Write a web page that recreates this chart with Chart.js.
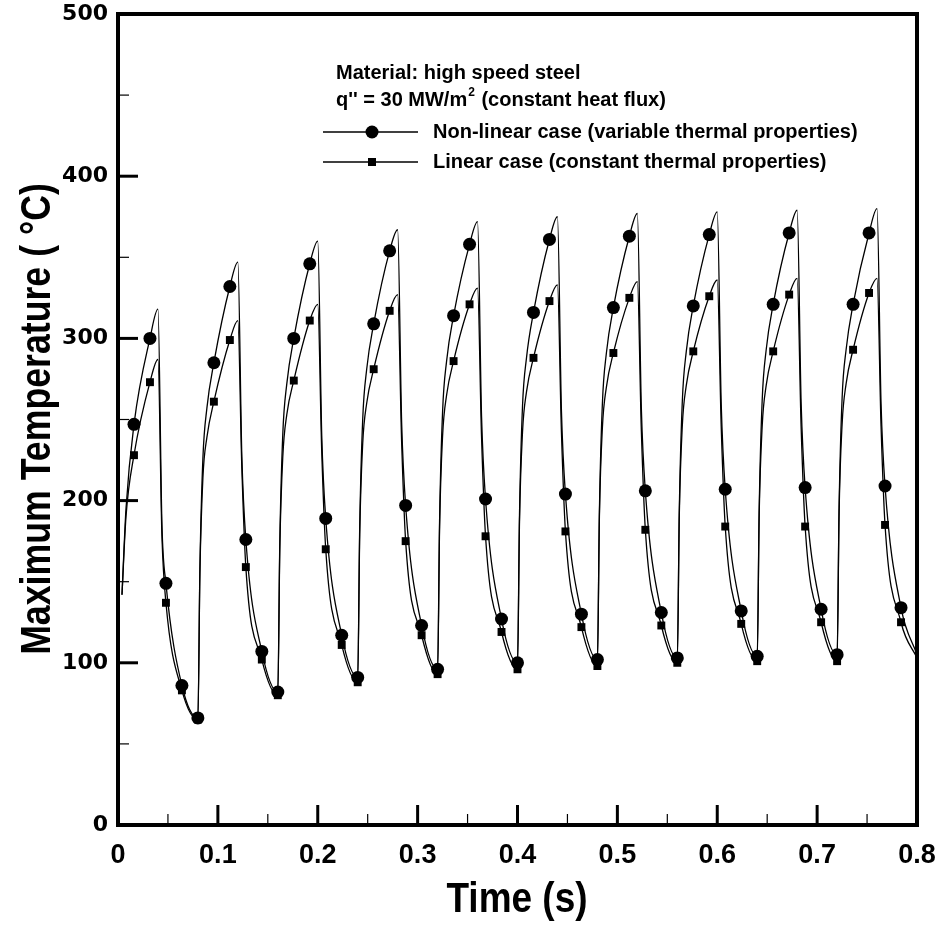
<!DOCTYPE html>
<html lang="en">
<head>
    <meta charset="UTF-8">
    <title>Maximum Temperature vs Time</title>
    <script src="https://cdn.jsdelivr.net/npm/chart.js"></script>
    <style>
        html, body { margin: 0; padding: 0; background: #fff; }
    </style>
</head>
<body>
    <canvas id="tempChart" width="944" height="933"></canvas>

    <script>
        // Time (s) of the read points, one row per heating/cooling cycle
        const time = [
            0.004, 0.008, 0.016, 0.032, 0.040, 0.044, 0.048, 0.064,
            0.080, 0.082, 0.085, 0.089, 0.096, 0.112, 0.120, 0.124, 0.128, 0.144,
            0.160, 0.162, 0.165, 0.169, 0.176, 0.192, 0.200, 0.204, 0.208, 0.224,
            0.240, 0.242, 0.245, 0.249, 0.256, 0.272, 0.280, 0.284, 0.288, 0.304,
            0.320, 0.322, 0.325, 0.329, 0.336, 0.352, 0.360, 0.364, 0.368, 0.384,
            0.400, 0.402, 0.405, 0.409, 0.416, 0.432, 0.440, 0.444, 0.448, 0.464,
            0.480, 0.482, 0.485, 0.489, 0.496, 0.512, 0.520, 0.524, 0.528, 0.544,
            0.560, 0.562, 0.565, 0.569, 0.576, 0.592, 0.600, 0.604, 0.608, 0.624,
            0.640, 0.642, 0.645, 0.649, 0.656, 0.672, 0.680, 0.684, 0.688, 0.704,
            0.720, 0.722, 0.725, 0.729, 0.736, 0.752, 0.760, 0.764, 0.768, 0.784,
            0.800
        ];

        // Non-linear case (variable thermal properties), deg C
        const nonLinearTemp = [
            142, 195, 247, 300, 318, 185, 149, 86,
            66, 158, 226, 257, 285, 332, 347, 227, 176, 107,
            82, 174, 241, 272, 300, 346, 360, 240, 189, 117,
            91, 183, 250, 281, 309, 354, 367, 248, 197, 123,
            96, 188, 255, 286, 314, 358, 372, 252, 201, 127,
            100, 191, 258, 288, 316, 361, 375, 255, 204, 130,
            102, 193, 260, 291, 319, 363, 377, 257, 206, 131,
            103, 194, 261, 292, 320, 364, 378, 259, 207, 132,
            104, 195, 262, 293, 321, 365, 379, 260, 208, 133,
            105, 196, 263, 293, 321, 365, 380, 260, 209, 134,
            105
        ];

        // Linear case (constant thermal properties), deg C
        const linearTemp = [
            142, 190, 228, 273, 287, 178, 137, 83,
            65, 155, 214, 239, 261, 299, 311, 220, 159, 102,
            80, 170, 227, 253, 274, 311, 321, 230, 170, 111,
            88, 179, 235, 260, 281, 317, 327, 236, 175, 117,
            93, 184, 240, 265, 286, 321, 331, 239, 178, 119,
            96, 187, 242, 267, 288, 323, 333, 242, 181, 122,
            98, 190, 245, 270, 291, 325, 335, 243, 182, 123,
            100, 191, 246, 271, 292, 326, 336, 245, 184, 124,
            101, 192, 246, 271, 292, 327, 337, 245, 184, 125,
            101, 193, 247, 272, 293, 328, 337, 246, 185, 125,
            103
        ];

        // symbols are drawn every 0.016 s
        const markerTimes = [
            0.016, 0.032, 0.048, 0.064, 0.080, 0.096, 0.112, 0.128, 0.144, 0.160,
            0.176, 0.192, 0.208, 0.224, 0.240, 0.256, 0.272, 0.288, 0.304, 0.320,
            0.336, 0.352, 0.368, 0.384, 0.400, 0.416, 0.432, 0.448, 0.464, 0.480,
            0.496, 0.512, 0.528, 0.544, 0.560, 0.576, 0.592, 0.608, 0.624, 0.640,
            0.656, 0.672, 0.688, 0.704, 0.720, 0.736, 0.752, 0.768, 0.784
        ];

        const xTickValues = [0, 0.1, 0.2, 0.3, 0.4, 0.5, 0.6, 0.7, 0.8];
        const xTickLabels = ['0', '0.1', '0.2', '0.3', '0.4', '0.5', '0.6', '0.7', '0.8'];
        const xMinorTicks = [0.05, 0.15, 0.25, 0.35, 0.45, 0.55, 0.65, 0.75];
        const yTickValues = [0, 100, 200, 300, 400, 500];
        const yMinorTicks = [50, 150, 250, 350, 450];

        const arial = "'Liberation Sans', Arial, sans-serif";

        function toPoints(values) {
            return time.map((t, i) => ({ x: t, y: values[i] }));
        }
        function isMarker(ctx) {
            return markerTimes.includes(time[ctx.dataIndex]);
        }

        // frame, inside ticks, axis titles and the text block
        const decorations = {
            id: 'decorations',
            afterDatasetsDraw(chart) {
                const { ctx, chartArea: a, scales: { x, y } } = chart;
                ctx.save();
                ctx.strokeStyle = '#000';
                ctx.fillStyle = '#000';

                function seg(x1, y1, x2, y2) {
                    ctx.beginPath();
                    ctx.moveTo(x1, y1);
                    ctx.lineTo(x2, y2);
                    ctx.stroke();
                }

                ctx.lineWidth = 3;
                xTickValues.forEach(v => { const p = x.getPixelForValue(v); seg(p, a.bottom, p, a.bottom - 20); });
                yTickValues.forEach(v => { const p = y.getPixelForValue(v); seg(a.left, p, a.left + 20, p); });
                ctx.lineWidth = 1.2;
                xMinorTicks.forEach(v => { const p = x.getPixelForValue(v); seg(p, a.bottom, p, a.bottom - 11); });
                yMinorTicks.forEach(v => { const p = y.getPixelForValue(v); seg(a.left, p, a.left + 11, p); });

                ctx.lineWidth = 4;
                ctx.strokeRect(a.left, a.top, a.right - a.left, a.bottom - a.top);

                // axis titles, squeezed to look like a narrow bold face
                ctx.textAlign = 'center';
                ctx.textBaseline = 'middle';
                ctx.font = 'bold 43px ' + arial;
                ctx.save();
                ctx.translate(517, 900);
                ctx.scale(0.86, 1);
                ctx.fillText('Time (s)', 0, 0);
                ctx.restore();
                ctx.save();
                ctx.translate(38, 419);
                ctx.rotate(-Math.PI / 2);
                ctx.scale(0.83, 1);
                ctx.fillText('Maximum Temperature ( °C)', 0, 0);
                ctx.restore();

                // annotation text
                ctx.font = 'bold 20px ' + arial;
                ctx.textAlign = 'left';
                ctx.fillText('Material: high speed steel', 336, 73);
                let tx = 336;
                const part1 = "q'' = 30 MW/m";
                ctx.fillText(part1, tx, 100);
                tx += ctx.measureText(part1).width;
                ctx.font = 'bold 12px ' + arial;
                ctx.fillText('2', tx + 1, 93);
                tx += ctx.measureText('2').width + 2;
                ctx.font = 'bold 20px ' + arial;
                ctx.fillText(' (constant heat flux)', tx, 100);

                // legend rows
                ctx.lineWidth = 1.3;
                seg(323, 132, 418, 132);
                ctx.beginPath();
                ctx.arc(372, 132, 6.5, 0, Math.PI * 2);
                ctx.fill();
                seg(323, 162, 418, 162);
                ctx.fillRect(368, 158, 8, 8);
                ctx.fillText('Non-linear case (variable thermal properties)', 433, 132);
                ctx.fillText('Linear case (constant thermal properties)', 433, 162);
                ctx.restore();
            }
        };

        const ctx = document.getElementById('tempChart').getContext('2d');
        const tempChart = new Chart(ctx, {
            type: 'line',
            data: {
                datasets: [
                    {
                        label: 'Non-linear case (variable thermal properties)',
                        data: toPoints(nonLinearTemp),
                        borderColor: '#000',
                        backgroundColor: '#000',
                        borderWidth: 1.3,
                        pointStyle: 'circle',
                        pointRadius: c => isMarker(c) ? 6.5 : 0,
                        pointBorderWidth: 0,
                        cubicInterpolationMode: 'monotone'
                    },
                    {
                        label: 'Linear case (constant thermal properties)',
                        data: toPoints(linearTemp),
                        borderColor: '#000',
                        backgroundColor: '#000',
                        borderWidth: 1.3,
                        pointStyle: 'rect',
                        pointRadius: c => isMarker(c) ? 5.6 : 0,
                        pointBorderWidth: 0,
                        cubicInterpolationMode: 'monotone'
                    }
                ]
            },
            options: {
                responsive: false,
                animation: false,
                events: [],
                layout: { padding: { top: 14, right: 27, left: 0, bottom: 0 } },
                plugins: {
                    legend: { display: false },
                    tooltip: { enabled: false }
                },
                scales: {
                    x: {
                        type: 'linear',
                        min: 0,
                        max: 0.8,
                        grid: { display: false, drawTicks: false },
                        border: { display: false },
                        afterBuildTicks: scale => { scale.ticks = xTickValues.map(v => ({ value: v })); },
                        afterFit: scale => {
                            scale.height = 108;
                            scale.paddingLeft = 0;
                            scale.paddingRight = 0;
                        },
                        ticks: {
                            color: '#000',
                            padding: 14,
                            maxRotation: 0,
                            font: { family: arial, weight: 'bold', size: 27 },
                            callback: (v, i) => xTickLabels[i]
                        }
                    },
                    y: {
                        min: 0,
                        max: 500,
                        grid: { display: false, drawTicks: false },
                        border: { display: false },
                        afterBuildTicks: scale => { scale.ticks = yTickValues.map(v => ({ value: v })); },
                        afterFit: scale => {
                            scale.width = 118;
                            scale.paddingTop = 0;
                            scale.paddingBottom = 0;
                        },
                        ticks: {
                            color: '#000',
                            padding: 10,
                            font: { family: "'DejaVu Sans', sans-serif", weight: 'bold', size: 22 }
                        }
                    }
                }
            },
            plugins: [decorations]
        });
    </script>
</body>
</html>
